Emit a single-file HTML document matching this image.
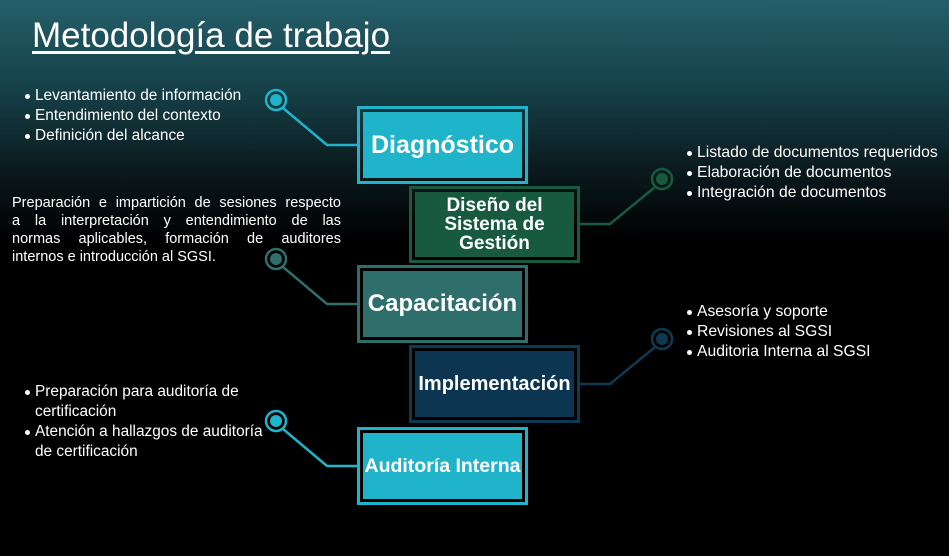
<!DOCTYPE html>
<html><head><meta charset="utf-8"><style>
html,body{margin:0;padding:0}
body{width:949px;height:556px;position:relative;overflow:hidden;font-family:"Liberation Sans",sans-serif;color:#fff;
background:linear-gradient(180deg,#245f6a 0px,#164048 90px,#0a1a1e 170px,#000 240px,#000 556px);}
.t{position:absolute;left:32px;top:16px;font-size:35px;text-decoration:underline;text-decoration-thickness:3px;text-underline-offset:4px;white-space:nowrap}
ul{position:absolute;margin:0;padding:0;font-size:15.4px;line-height:20px;list-style:none;white-space:nowrap}
li{position:relative;padding-left:13px}
li:before{content:"";position:absolute;left:3px;top:8px;width:5px;height:5px;border-radius:50%;background:#fff}
.box{position:absolute;box-sizing:border-box;border:3px solid;display:flex;align-items:center;justify-content:center;text-align:center;font-weight:bold;}
.in{position:absolute;left:3px;top:3px;right:3px;bottom:3px;display:flex;align-items:center;justify-content:center;white-space:nowrap}
.p{position:absolute;left:12px;top:194px;width:329px;font-size:14.5px;line-height:18px}
.p div{text-align:justify;text-align-last:justify;white-space:nowrap}
.p div.l{text-align-last:left}
</style></head><body>
<div class="t">Metodología de trabajo</div>
<ul style="left:22px;top:86px"><li>Levantamiento de información</li><li>Entendimiento del contexto</li><li>Definición del alcance</li></ul>
<ul style="left:684px;top:143px;font-size:15.7px"><li>Listado de documentos requeridos</li><li>Elaboración de documentos</li><li>Integración de documentos</li></ul>
<div class="p"><div>Preparación e impartición de sesiones respecto</div><div>a la interpretación y entendimiento de las</div><div>normas aplicables, formación de auditores</div><div class="l">internos e introducción al SGSI.</div></div>
<ul style="left:684px;top:302px;font-size:15.7px"><li>Asesoría y soporte</li><li>Revisiones al SGSI</li><li>Auditoria Interna al SGSI</li></ul>
<ul style="left:22px;top:382px"><li>Preparación para auditoría de<br>certificación</li><li>Atención a hallazgos de auditoría<br>de certificación</li></ul>

<svg width="949" height="556" style="position:absolute;left:0;top:0" fill="none" stroke-width="2.5">
<g stroke="#1fb4c9"><circle cx="276" cy="100" r="10"/><polyline points="283,108 327,145 357,145"/></g>
<circle cx="276" cy="100" r="6" fill="#1fb4c9"/>
<g stroke="#175a40"><circle cx="662" cy="179" r="10"/><polyline points="655,187 610,224 580,224"/></g>
<circle cx="662" cy="179" r="6" fill="#175a40"/>
<g stroke="#2e6e6b"><circle cx="276" cy="259" r="10"/><polyline points="283,267 327,304 357,304"/></g>
<circle cx="276" cy="259" r="6" fill="#2e6e6b"/>
<g stroke="#0c3a52"><circle cx="662" cy="339" r="10"/><polyline points="655,347 610,384 580,384"/></g>
<circle cx="662" cy="339" r="6" fill="#0c3a52"/>
<g stroke="#1fb4c9"><circle cx="276" cy="421" r="10"/><polyline points="283,429 327,466 357,466"/></g>
<circle cx="276" cy="421" r="6" fill="#1fb4c9"/>
</svg>

<div class="box" style="left:357px;top:106px;width:171px;height:78px;border-color:#1fb4c9"><div class="in" style="background:#1fb4c9;font-size:25px">Diagnóstico</div></div>
<div class="box" style="left:409px;top:186px;width:171px;height:77px;border-color:#175a40"><div class="in" style="background:#175a40;font-size:19px;line-height:19px">Diseño del<br>Sistema de<br>Gestión</div></div>
<div class="box" style="left:357px;top:265px;width:171px;height:78px;border-color:#2e6e6b"><div class="in" style="background:#2e6e6b;font-size:24px">Capacitación</div></div>
<div class="box" style="left:409px;top:345px;width:171px;height:78px;border-color:#0c3a52"><div class="in" style="background:#0b3550;font-size:20px">Implementación</div></div>
<div class="box" style="left:357px;top:427px;width:171px;height:78px;border-color:#1fb4c9"><div class="in" style="background:#1fb4c9;font-size:19.5px">Auditoría Interna</div></div>
</body></html>
